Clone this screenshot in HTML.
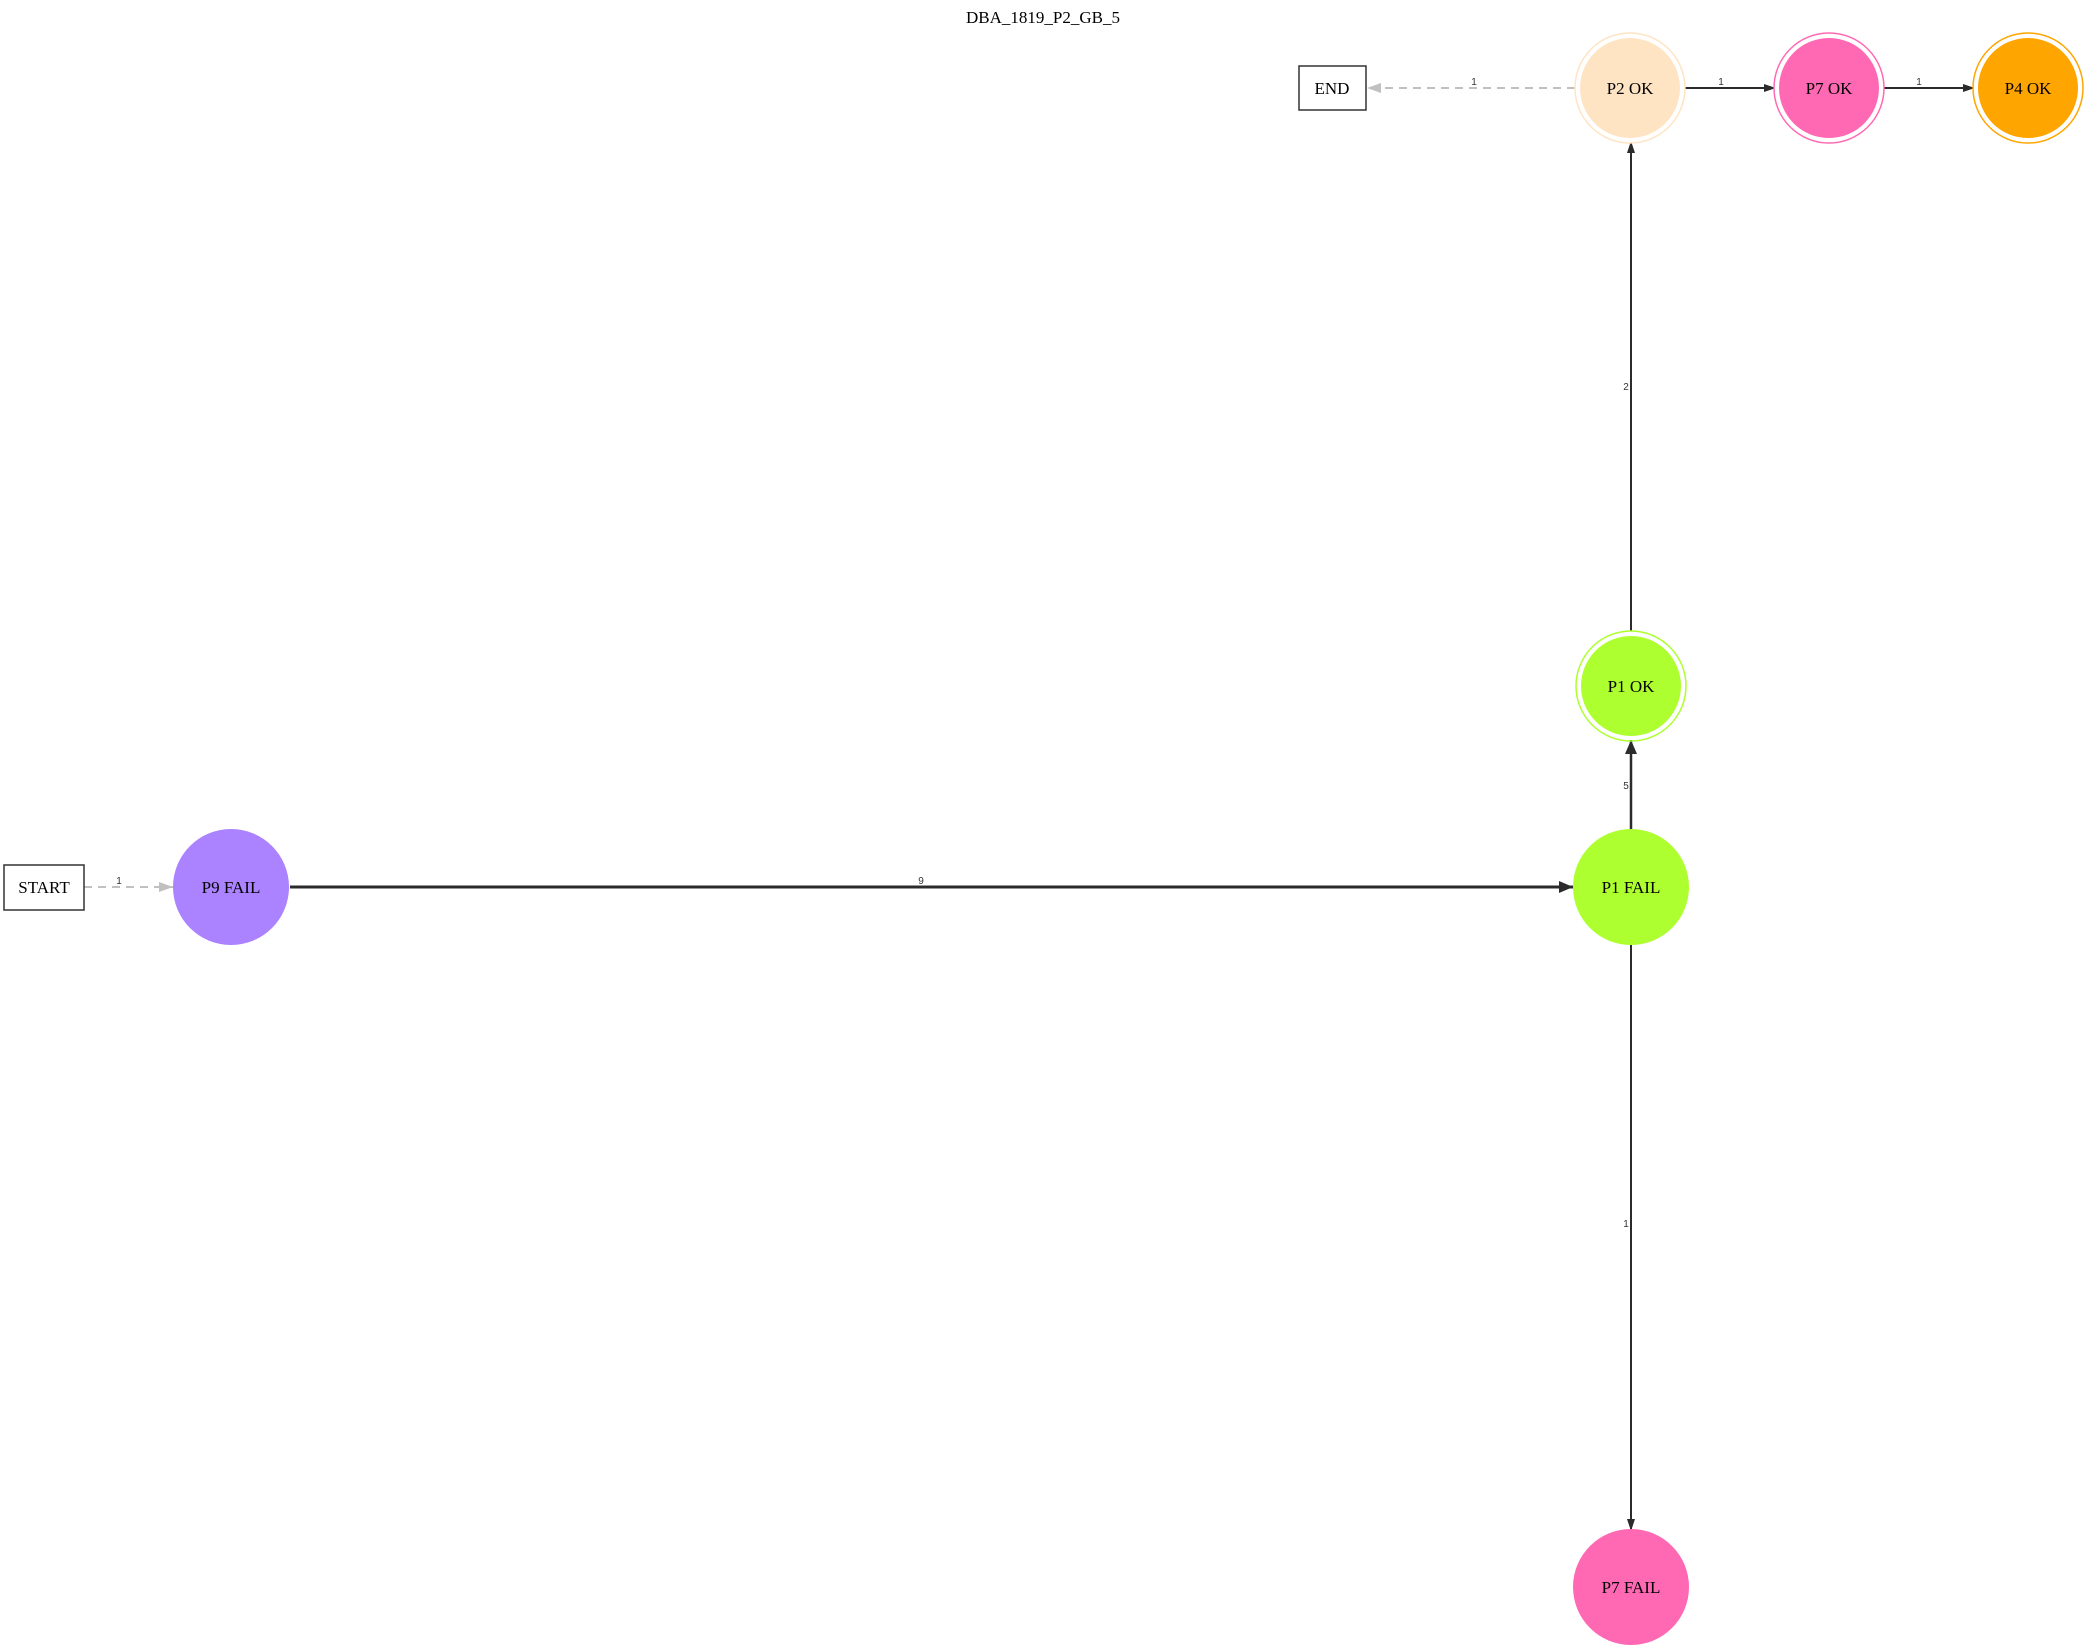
<!DOCTYPE html>
<html><head><style>body{margin:0;background:#fff}svg{display:block}</style></head>
<body>
<svg width="2089" height="1650" viewBox="0 0 2089 1650" xmlns="http://www.w3.org/2000/svg" font-family="Liberation Serif, serif">
<defs>
<marker id="a" markerWidth="10" markerHeight="8" refX="10" refY="4" orient="auto" markerUnits="userSpaceOnUse"><path d="M0,0 L12,4 L0,8z" fill="#2b2b2b"/></marker>
<marker id="g" markerWidth="14" markerHeight="10" refX="14" refY="5" orient="auto" markerUnits="userSpaceOnUse"><path d="M0,0 L14,5 L0,10z" fill="#c0c0c0"/></marker>
<marker id="b" markerWidth="14" markerHeight="12" refX="14" refY="6" orient="auto" markerUnits="userSpaceOnUse"><path d="M0,0 L14,6 L0,12z" fill="#2b2b2b"/></marker>
</defs>
<text x="1043" y="23" font-size="17" text-anchor="middle">DBA_1819_P2_GB_5</text>
<!-- edges -->
<line x1="84" y1="887" x2="173" y2="887" stroke="#c0c0c0" stroke-width="2" stroke-dasharray="8,6" marker-end="url(#g)"/>
<text x="119" y="884" font-size="10" font-family="Liberation Sans, sans-serif" fill="#333" text-anchor="middle">1</text>
<line x1="290" y1="887" x2="1573" y2="887" stroke="#2b2b2b" stroke-width="3" marker-end="url(#b)"/>
<text x="921" y="884" font-size="10" font-family="Liberation Sans, sans-serif" fill="#333" text-anchor="middle">9</text>
<line x1="1631" y1="829" x2="1631" y2="740" stroke="#2b2b2b" stroke-width="2.5" marker-end="url(#b)"/>
<text x="1626" y="789" font-size="10" font-family="Liberation Sans, sans-serif" fill="#333" text-anchor="middle">5</text>
<line x1="1631" y1="631" x2="1631" y2="143" stroke="#2b2b2b" stroke-width="2" marker-end="url(#a)"/>
<text x="1626" y="390" font-size="10" font-family="Liberation Sans, sans-serif" fill="#333" text-anchor="middle">2</text>
<line x1="1631" y1="945" x2="1631" y2="1529" stroke="#2b2b2b" stroke-width="2" marker-end="url(#a)"/>
<text x="1626" y="1227" font-size="10" font-family="Liberation Sans, sans-serif" fill="#333" text-anchor="middle">1</text>
<line x1="1575" y1="88" x2="1367" y2="88" stroke="#c0c0c0" stroke-width="2" stroke-dasharray="8,6" marker-end="url(#g)"/>
<text x="1474" y="85" font-size="10" font-family="Liberation Sans, sans-serif" fill="#333" text-anchor="middle">1</text>
<line x1="1685" y1="88" x2="1774" y2="88" stroke="#2b2b2b" stroke-width="2" marker-end="url(#a)"/>
<text x="1721" y="85" font-size="10" font-family="Liberation Sans, sans-serif" fill="#333" text-anchor="middle">1</text>
<line x1="1884" y1="88" x2="1973" y2="88" stroke="#2b2b2b" stroke-width="2" marker-end="url(#a)"/>
<text x="1919" y="85" font-size="10" font-family="Liberation Sans, sans-serif" fill="#333" text-anchor="middle">1</text>
<!-- nodes -->
<rect x="4" y="865" width="80" height="45" fill="#fff" stroke="#333" stroke-width="1.5"/>
<text x="44" y="893" font-size="17" text-anchor="middle">START</text>
<rect x="1299" y="66" width="67" height="44" fill="#fff" stroke="#333" stroke-width="1.5"/>
<text x="1332" y="94" font-size="17" text-anchor="middle">END</text>
<circle cx="231" cy="887" r="58" fill="#ab82ff"/>
<text x="231" y="893" font-size="17" text-anchor="middle">P9 FAIL</text>
<circle cx="1631" cy="887" r="58" fill="#adff2f"/>
<text x="1631" y="893" font-size="17" text-anchor="middle">P1 FAIL</text>
<circle cx="1631" cy="1587" r="58" fill="#ff69b4"/>
<text x="1631" y="1593" font-size="17" text-anchor="middle">P7 FAIL</text>
<circle cx="1631" cy="686" r="55" fill="none" stroke="#adff2f" stroke-width="1.5"/>
<circle cx="1631" cy="686" r="50" fill="#adff2f"/>
<text x="1631" y="692" font-size="17" text-anchor="middle">P1 OK</text>
<circle cx="1630" cy="88" r="55" fill="none" stroke="#ffe4c4" stroke-width="1.5"/>
<circle cx="1630" cy="88" r="50" fill="#ffe4c4"/>
<text x="1630" y="94" font-size="17" text-anchor="middle">P2 OK</text>
<circle cx="1829" cy="88" r="55" fill="none" stroke="#ff69b4" stroke-width="1.5"/>
<circle cx="1829" cy="88" r="50" fill="#ff69b4"/>
<text x="1829" y="94" font-size="17" text-anchor="middle">P7 OK</text>
<circle cx="2028" cy="88" r="55" fill="none" stroke="#ffa500" stroke-width="1.5"/>
<circle cx="2028" cy="88" r="50" fill="#ffa500"/>
<text x="2028" y="94" font-size="17" text-anchor="middle">P4 OK</text>
</svg>
</body></html>
